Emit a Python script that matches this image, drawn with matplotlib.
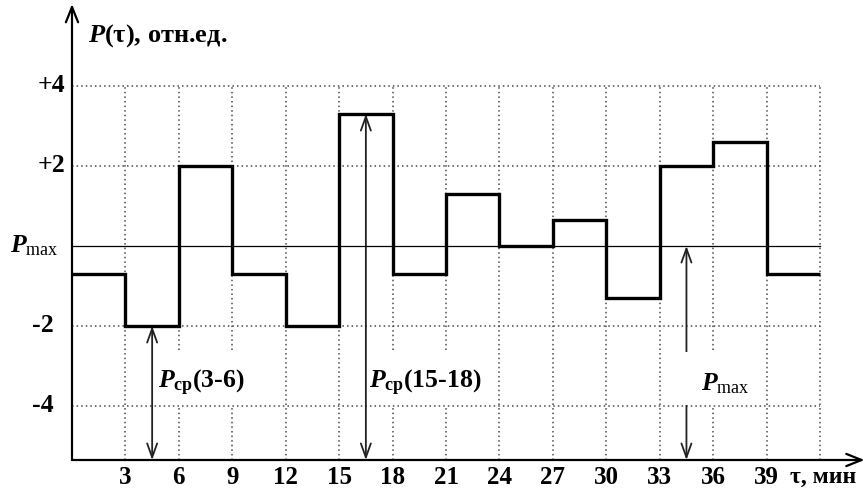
import matplotlib
matplotlib.use('Agg')
import matplotlib.pyplot as plt
from matplotlib.patches import Rectangle

plt.rcParams['font.family'] = ['Liberation Serif', 'DejaVu Serif']
plt.rcParams['font.weight'] = 'bold'
plt.rcParams['mathtext.fontset'] = 'custom'
plt.rcParams['mathtext.it'] = 'Liberation Serif:italic:bold'
plt.rcParams['mathtext.rm'] = 'Liberation Serif:bold'
plt.rcParams['mathtext.sf'] = 'Liberation Serif:regular'

# --- data -------------------------------------------------------------
interval_edges = [0, 3, 6, 9, 12, 15, 18, 21, 24, 27, 30, 33, 36, 39, 42]
power_levels = [-0.7, -2.0, 2.0, -0.7, -2.0, 3.3, -0.7, 1.3, 0.0, 0.65,
                -1.3, 2.0, 2.6, -0.7]
x_ticks = [3, 6, 9, 12, 15, 18, 21, 24, 27, 30, 33, 36, 39]
grid_x = [3, 6, 9, 12, 15, 18, 21, 24, 27, 30, 33, 36, 39, 42]
grid_y = [4, 2, -2, -4]
y_tick_values = [4, 2, 0, -2, -4]
y_tick_labels = ['+4', '+2', r'$P_{\mathsf{max}}$', '-2', '-4']
p_max_level = 0.0

# --- figure -----------------------------------------------------------
W, H = 866, 488
fig = plt.figure(figsize=(W / 100, H / 100), dpi=100)
x_min, x_max = 0, 44.5
y_min, y_max = -5.35, 6.05
ax = fig.add_axes([72 / W, 28 / H, (x_max - x_min) * 17.81 / W,
                   (y_max - y_min) * 40 / H])
ax.set_xlim(x_min, x_max)
ax.set_ylim(y_min, y_max)
ax.axis('off')

dot_style = dict(color='#4a4a4a', lw=1.1, linestyle=(0, (1, 2)), zorder=1)
for gx in grid_x:
    ax.plot([gx, gx], [y_min, 4], **dot_style)
for gy in grid_y:
    ax.plot([0, 42], [gy, gy], **dot_style)

# reference level line
ax.plot([0, 42], [p_max_level, p_max_level], color='black', lw=0.9, zorder=3)

# power profile
ax.stairs(power_levels, interval_edges, baseline=None, color='black',
          lw=2.4, zorder=4)

# axes with arrows
axis_arrow = dict(arrowstyle='->,head_length=0.55,head_width=0.22',
                  color='black', lw=1.6, mutation_scale=20,
                  shrinkA=0, shrinkB=0)
ax.annotate('', xy=(0, y_max), xytext=(0, y_min), arrowprops=axis_arrow,
            zorder=5, annotation_clip=False)
ax.annotate('', xy=(x_max, y_min), xytext=(0, y_min), arrowprops=axis_arrow,
            zorder=5, annotation_clip=False)

# double-headed dimension arrows
dim_arrow = dict(arrowstyle='<->,head_length=0.5,head_width=0.18',
                 color='#222222', lw=1.3, mutation_scale=20,
                 shrinkA=0, shrinkB=0)
dims = [
    (4.5, power_levels[1], r'$P_{\mathrm{ср}}$(3-6)', 4.85, (4.65, 10.0)),
    (16.5, power_levels[5], r'$P_{\mathrm{ср}}$(15-18)', 16.65, (16.6, 23.3)),
    (34.5, p_max_level, r'$P_{\mathsf{max}}$', 35.3, (34.35, 38.4)),
]
for x, level, label, tx, (bx0, bx1) in dims:
    ax.annotate('', xy=(x, level), xytext=(x, y_min), arrowprops=dim_arrow,
                zorder=1.5)
    ax.add_patch(Rectangle((bx0, -3.98), bx1 - bx0, 1.33, facecolor='white',
                           edgecolor='none', zorder=2))
    ax.text(tx, -3.43, label, fontsize=18.5, ha='left', va='center', zorder=6)

# tick labels
for xt in x_ticks:
    ax.text(xt, -5.8, str(xt), fontsize=18, ha='center', va='center')
y_label_x = {4: -0.4, 2: -0.4, 0: -0.75, -2: -1.05, -4: -1.05}
for yv, yl in zip(y_tick_values, y_tick_labels):
    ax.text(y_label_x[yv], yv, yl, fontsize=18.5, ha='right', va='center',
            clip_on=False)

ax.text(0.9, 5.25, r'$P$(τ), отн.ед.', fontsize=19, ha='left', va='center')
ax.text(40.3, -5.78, 'τ, мин', fontsize=17, ha='left', va='center',
        clip_on=False)

fig.savefig('out.png', dpi=100)
